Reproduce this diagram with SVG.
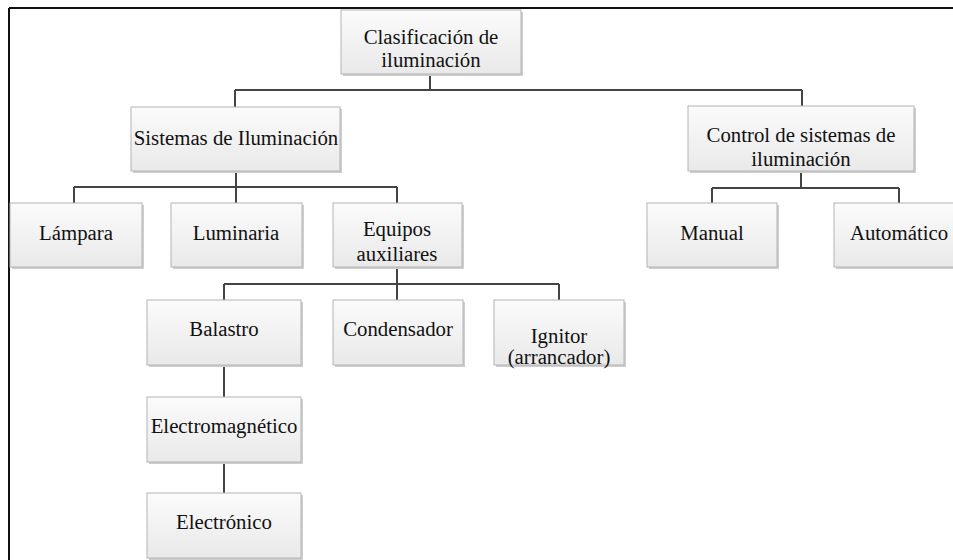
<svg xmlns="http://www.w3.org/2000/svg" width="953" height="560" viewBox="0 0 953 560">
<defs>
<linearGradient id="g" x1="0" y1="0" x2="0" y2="1">
<stop offset="0" stop-color="#fbfbfb"/>
<stop offset="1" stop-color="#e9e9e9"/>
</linearGradient>
<style>
.box{fill:url(#g);stroke:#b4b4b4;stroke-width:1}
.sh{fill:#cfcfcf}
text{font-family:'Liberation Serif','DejaVu Serif',serif;font-size:20.8px;fill:#111;text-anchor:middle}
.c{fill:none;stroke:#444;stroke-width:2}
</style>
</defs>
<rect width="953" height="560" fill="#fff"/>
<g id="frame">
<path d="M9 8 H953 M9 8 V560" fill="none" stroke="#111" stroke-width="2"/>
</g>
<g id="connectors">
<path class="c" d="M430 74 V90 M235 90 H802 M235 90 V107 M802 90 V106"/>
<path class="c" d="M236 171 V187 M74 187 H397 M74 187 V203 M236 187 V203 M397 187 V203"/>
<path class="c" d="M801 171 V188 M712 188 H899 M712 188 V203 M899 188 V203"/>
<path class="c" d="M397 267 V284 M224 284 H559 M224 284 V300 M397 284 V300 M559 284 V300"/>
<path class="c" d="M224 365 V397 M224 462 V493"/>
</g>
<g>
<g id="n-root"><rect class="sh" x="343" y="12" width="180" height="64"/><rect class="box" x="341" y="10" width="180" height="64"/><text x="431" y="44">Clasificación de</text><text x="431" y="67">iluminación</text></g>
<g id="n-sistemas"><rect class="sh" x="133" y="109" width="209" height="64"/><rect class="box" x="131" y="107" width="209" height="64"/><text x="236" y="145">Sistemas de Iluminación</text></g>
<g id="n-control"><rect class="sh" x="690" y="108" width="226" height="65"/><rect class="box" x="688" y="106" width="226" height="65"/><text x="801" y="142">Control de sistemas de</text><text x="801" y="166">iluminación</text></g>
<g id="n-lampara"><rect class="sh" x="12" y="205" width="132" height="64"/><rect class="box" x="10" y="203" width="132" height="64"/><text x="76" y="240">Lámpara</text></g>
<g id="n-luminaria"><rect class="sh" x="173" y="205" width="131" height="64"/><rect class="box" x="171" y="203" width="131" height="64"/><text x="236" y="240">Luminaria</text></g>
<g id="n-equipos"><rect class="sh" x="335" y="205" width="129" height="64"/><rect class="box" x="333" y="203" width="129" height="64"/><text x="397" y="236">Equipos</text><text x="397" y="261">auxiliares</text></g>
<g id="n-manual"><rect class="sh" x="649" y="205" width="130" height="64"/><rect class="box" x="647" y="203" width="130" height="64"/><text x="712" y="240">Manual</text></g>
<g id="n-automatico"><rect class="sh" x="836" y="205" width="130" height="64"/><rect class="box" x="834" y="203" width="130" height="64"/><text x="899" y="240">Automático</text></g>
<g id="n-balastro"><rect class="sh" x="149" y="302" width="154" height="65"/><rect class="box" x="147" y="300" width="154" height="65"/><text x="224" y="336">Balastro</text></g>
<g id="n-condensador"><rect class="sh" x="335" y="302" width="130" height="65"/><rect class="box" x="333" y="300" width="130" height="65"/><text x="398" y="336">Condensador</text></g>
<g id="n-ignitor"><rect class="sh" x="496" y="302" width="130" height="65"/><rect class="box" x="494" y="300" width="130" height="65"/><text x="559" y="343">Ignitor</text><text x="559" y="364">(arrancador)</text></g>
<g id="n-electromagnetico"><rect class="sh" x="149" y="399" width="154" height="65"/><rect class="box" x="147" y="397" width="154" height="65"/><text x="224" y="433">Electromagnético</text></g>
<g id="n-electronico"><rect class="sh" x="149" y="495" width="154" height="65"/><rect class="box" x="147" y="493" width="154" height="65"/><text x="224" y="529">Electrónico</text></g>
</g>
</svg>
